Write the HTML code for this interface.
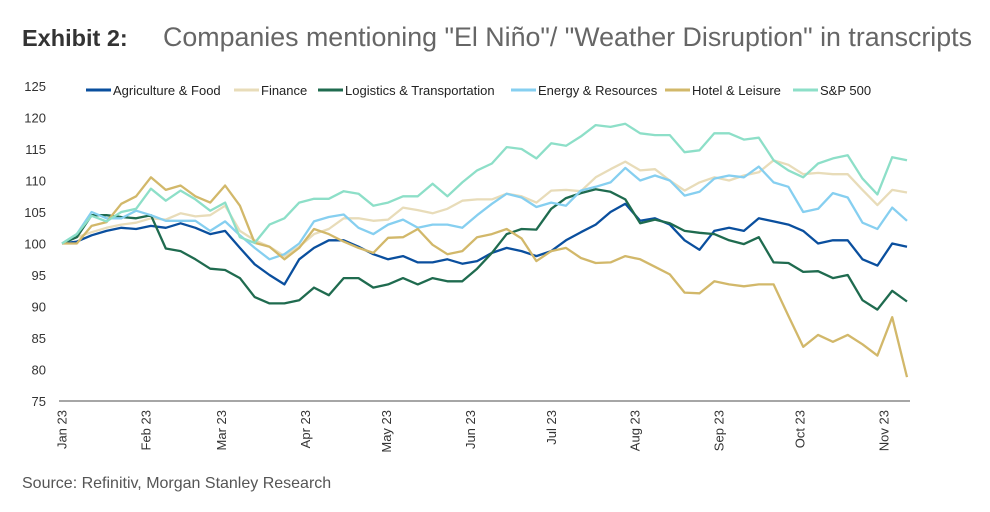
<!DOCTYPE html>
<html><head><meta charset="utf-8"><style>
body{margin:0;background:#fff;width:990px;height:512px;overflow:hidden;font-family:"Liberation Sans",sans-serif}
svg{position:absolute;left:0;top:0}
</style></head><body>
<svg id="chart" width="990" height="512">
<text x="22" y="46" font-size="23.5" font-weight="bold" fill="#333">Exhibit 2:</text>
<text x="163" y="46" font-size="26.5" fill="#666" textLength="809" lengthAdjust="spacingAndGlyphs">Companies mentioning "El Niño"/ "Weather Disruption" in transcripts</text>
<text x="22" y="488" font-size="16" fill="#555">Source: Refinitiv, Morgan Stanley Research</text>
<line x1="59" y1="401" x2="910" y2="401" stroke="#888" stroke-width="1.5"/>
<g id="yticks"></g><g id="xticks"></g><g id="lines"></g><g id="legend"></g>
</svg>
<script>
const yTicks=[75,80,85,90,95,100,105,110,115,120,125];
const monthLabels=["Jan 23","Feb 23","Mar 23","Apr 23","May 23","Jun 23","Jul 23","Aug 23","Sep 23","Oct 23","Nov 23"];
const monthDays=[0,31,59,90,120,151,181,212,243,273,304];
const seriesNames=["Agriculture & Food","Finance","Logistics & Transportation","Energy & Resources","Hotel & Leisure","S&P 500"];
const seriesColors=["#0a4f9e","#e8dcb9","#1f6b4f","#86cff0","#d2b86a","#8ddfc8"];
const agri=[100,100.3,101.3,102,102.5,102.3,102.8,102.5,103.2,102.5,101.5,102,99.3,96.7,95,93.5,97.5,99.3,100.5,100.5,99.5,98.3,97.5,98,97,97,97.5,96.8,97.2,98.5,99.3,98.8,98,98.8,100.5,101.8,103,105,106.3,103.6,104,103,100.5,99,102,102.5,102,104,103.5,103,102,100,100.5,100.5,97.5,96.5,100,99.5];
const finance=[100,101,101.8,102.5,103,103.3,104,103.8,104.8,104.3,104.5,106,102,100.5,99.5,98,99.5,101.5,102.3,104,104,103.6,103.8,105.7,105.3,104.8,105.5,106.8,107,107,107.9,107.5,106.5,108.4,108.5,108.3,110.5,111.8,113,111.6,111.8,110,108.4,109.7,110.5,110,110.8,111.3,113.2,112.5,111,111.2,111,111,108.5,106.1,108.5,108.1];
const logistics=[100,101,104.5,104.5,104.2,104,104.5,99.2,98.8,97.5,96,95.8,94.5,91.5,90.5,90.5,91,93,91.8,94.5,94.5,93,93.5,94.5,93.5,94.5,94,94,96,98.5,101.5,102.3,102.2,105.5,107.2,108,108.6,108.2,107,103.2,103.8,103.2,102,101.7,101.5,100.5,99.9,101,97,96.9,95.5,95.6,94.5,95,91,89.5,92.5,90.8];
const energy=[100,101.5,105,104,104,105.2,104.5,103.6,103.6,103.6,102,103.5,101.3,99.3,97.5,98.3,100,103.5,104.2,104.6,102.5,101.5,103,103.8,102.5,103,103,102.5,104.5,106.3,107.9,107.3,105.8,106.5,106,108.4,109,109.7,112,110,110.8,110,107.6,108.2,110.3,110.8,110.5,112.2,109.7,109,105,105.5,108,107.3,103.3,102.3,105.7,103.6];
const hotel=[100,100,102.8,103.4,106.3,107.5,110.5,108.5,109.2,107.5,106.5,109.2,106,100.1,99.5,97.5,99.3,102.3,101.5,100.3,99.3,98.5,100.9,101,102.3,99.8,98.3,98.8,101,101.5,102.3,100.8,97.2,98.8,99.3,97.7,96.9,97,98,97.5,96.3,95.1,92.2,92.1,94,93.5,93.2,93.5,93.5,88.5,83.6,85.5,84.4,85.5,84,82.2,88.3,78.8];
const sp500=[100,101.5,104.4,103.5,105,105.5,108.7,106.8,108.4,107,105.2,106.5,101,100.1,103,104,106.5,107.1,107.1,108.3,107.9,106,106.5,107.5,107.5,109.5,107.5,109.7,111.6,112.7,115.3,115,113.5,115.9,115.5,117,118.8,118.5,119,117.5,117.2,117.2,114.5,114.8,117.5,117.5,116.5,116.8,113.2,111.6,110.5,112.7,113.5,114,110.3,107.8,113.7,113.2];
const allSeries=[agri,finance,logistics,energy,hotel,sp500];

const NS="http://www.w3.org/2000/svg";
const X0=62,X1=907,Y0=401,Y1=86;
const yScale=v=>Y0-(v-75)*(Y0-Y1)/50;
const idxScale=(i,n)=>X0+i*(X1-X0)/(n-1);
const dayScale=d=>X0+d*(884-X0)/304;
function mk(tag,attrs,parent){const e=document.createElementNS(NS,tag);for(const k in attrs)e.setAttribute(k,attrs[k]);parent.appendChild(e);return e;}

const yt=document.getElementById('yticks');
yTicks.forEach(v=>{
  const t=mk('text',{x:46,y:yScale(v)+5,'text-anchor':'end','font-size':13,fill:'#333'},yt);
  
  
  t.textContent=v;
});
const xt=document.getElementById('xticks');
monthLabels.forEach((m,i)=>{
  const x=dayScale(monthDays[i]);
  const t=mk('text',{x:0,y:0,transform:`translate(${x+4.5},410) rotate(-90)`,'text-anchor':'end','font-size':13,fill:'#333'},xt);
  
  
  t.textContent=m;
});
const lg=document.getElementById('lines');
allSeries.forEach((s,k)=>{
  const d=s.map((v,i)=>(i?'L':'M')+idxScale(i,s.length).toFixed(1)+','+yScale(v).toFixed(1)).join(' ');
  const p=mk('path',{d:d,fill:'none',stroke:seriesColors[k],'stroke-width':2.3,'stroke-linejoin':'round'},lg);
  
  
});
const leg=document.getElementById('legend');
const legX=[86,234,318,511,665,793];
seriesNames.forEach((n,k)=>{
  const g=mk('g',{},leg);
  
  
  mk('line',{x1:legX[k],y1:90,x2:legX[k]+25,y2:90,stroke:seriesColors[k],'stroke-width':3},g);
  const t=mk('text',{x:legX[k]+27,y:95,'font-size':13,fill:'#222'},g);
  t.textContent=n;
});
</script>
</body></html>
